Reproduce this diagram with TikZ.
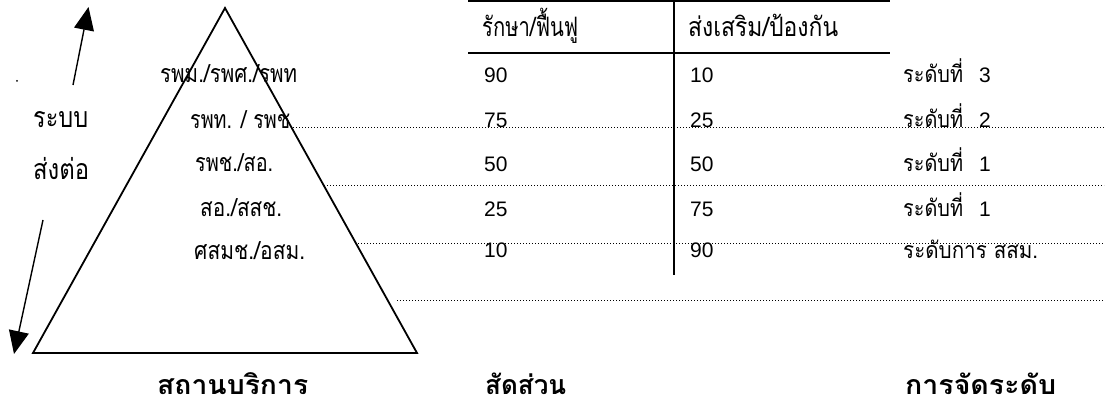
\documentclass[tikz,border=0pt]{standalone}
\usepackage{fontspec}
\usepackage{graphicx}
\setmainfont{Liberation Sans}
\newfontfamily\thai[Script=Thai]{Loma}
\usetikzlibrary{arrows.meta}
\newsavebox\thtext
\newsavebox\thref
% \thtx{width}{body height}{text}
\newcommand{\thtx}[3]{%
  \sbox\thtext{\thai #3}\sbox\thref{\thai น}%
  \pgfmathsetmacro\thsx{#1/\the\wd\thtext}%
  \pgfmathsetmacro\thsy{#2/\the\ht\thref}%
  \scalebox{\thsx}[\thsy]{\usebox\thtext}}
\newcommand{\thbx}[3]{%
  \sbox\thtext{\thai\bfseries #3}\sbox\thref{\thai\bfseries น}%
  \pgfmathsetmacro\thsx{#1/\the\wd\thtext}%
  \pgfmathsetmacro\thsy{#2/\the\ht\thref}%
  \scalebox{\thsx}[\thsy]{\usebox\thtext}}
\newcommand{\digs}[1]{{\fontsize{21}{21}\selectfont #1}}
\begin{document}
\begin{tikzpicture}[x=1pt,y=-1pt,
  tri/.style={line width=1.8pt,line join=miter},
  bigarrow/.style={line width=1.4pt,-{Triangle[length=23pt,width=20pt]}},
  tline/.style={line width=2.2pt},
  dotline/.style={line width=0.9pt,dash pattern=on 0.9pt off 2.1pt},
  txt/.style={inner sep=0pt,anchor=base west,text=black}]
\useasboundingbox (0,0) rectangle (1107,403);
% triangle
\coordinate (apex) at (225,8);
\coordinate (bl) at (33,353);
\coordinate (br) at (417,353);
\draw[tri] (apex) -- (bl) -- (br) -- cycle;
% arrows
\coordinate (u0) at (73,85);
\coordinate (u1) at (88.5,7);
\draw[bigarrow] (u0) -- (u1);
\coordinate (d0) at (43,220);
\coordinate (d1) at (14,354);
\draw[bigarrow] (d0) -- (d1);
% left labels
\node[circle,fill=black,inner sep=0pt,minimum size=2pt] (dot) at (17,81) {};
\node[txt] (rb) at (33,128) {\thtx{55pt}{16pt}{ระบบ}};
\node[txt] (st) at (33,180) {\thtx{56pt}{16pt}{ส่งต่อ}};
% triangle labels
\node[txt] (t1) at (160,83) {\thtx{137pt}{14pt}{รพม./รพศ./รพท}};
\node[txt] (t2) at (190,129) {\thtx{100pt}{14pt}{รพท. / รพช}};
\node[txt] (t3) at (195,172) {\thtx{78pt}{14pt}{รพช./สอ.}};
\node[txt] (t4) at (200,217) {\thtx{82pt}{14pt}{สอ./สสช.}};
\node[txt] (t5) at (194,260) {\thtx{111pt}{14pt}{ศสมช./อสม.}};
% table lines
\coordinate (h0a) at (468,1);
\coordinate (h0b) at (890,1);
\coordinate (h1a) at (468,53);
\coordinate (h1b) at (890,53);
\coordinate (v0) at (674,0);
\coordinate (v1) at (674,275);
\draw[tline] (h0a) -- (h0b);
\draw[tline] (h1a) -- (h1b);
\draw[tline] (v0) -- (v1);
% headers
\node[txt] (c1) at (482,37) {\thtx{96pt}{15pt}{รักษา/ฟื้นฟู}};
\node[txt] (c2) at (688,37) {\thtx{150pt}{15pt}{ส่งเสริม/ป้องกัน}};
% values
\node[txt] (a1) at (484,83) {\digs{90}};
\node[txt] (b1) at (690,83) {\digs{10}};
\node[txt] (r1) at (903,83) {\thtx{60pt}{13pt}{ระดับที่}};
\node[txt] (n1) at (979,83) {\digs{3}};
\node[txt] (a2) at (484,128) {\digs{75}};
\node[txt] (b2) at (690,128) {\digs{25}};
\node[txt] (r2) at (903,128) {\thtx{60pt}{13pt}{ระดับที่}};
\node[txt] (n2) at (979,128) {\digs{2}};
\node[txt] (a3) at (484,172) {\digs{50}};
\node[txt] (b3) at (690,172) {\digs{50}};
\node[txt] (r3) at (903,172) {\thtx{60pt}{13pt}{ระดับที่}};
\node[txt] (n3) at (979,172) {\digs{1}};
\node[txt] (a4) at (484,217) {\digs{25}};
\node[txt] (b4) at (690,217) {\digs{75}};
\node[txt] (r4) at (903,217) {\thtx{60pt}{13pt}{ระดับที่}};
\node[txt] (n4) at (979,217) {\digs{1}};
\node[txt] (a5) at (484,258) {\digs{10}};
\node[txt] (b5) at (690,258) {\digs{90}};
\node[txt] (r5) at (903,258) {\thtx{135pt}{13pt}{ระดับการ สสม.}};
% dotted lines
\coordinate (p1a) at (293,127);
\coordinate (p1b) at (1104,127);
\coordinate (p2a) at (324,185);
\coordinate (p2b) at (1104,185);
\coordinate (p3a) at (358,243);
\coordinate (p3b) at (1104,243);
\coordinate (p4a) at (397,300);
\coordinate (p4b) at (1104,300);
\draw[dotline] (p1a) -- (p1b);
\draw[dotline] (p2a) -- (p2b);
\draw[dotline] (p3a) -- (p3b);
\draw[dotline] (p4a) -- (p4b);
% bottom headings
\node[txt] (f1) at (157,394) {\thbx{151pt}{15pt}{สถานบริการ}};
\node[txt] (f2) at (485,394) {\thbx{81pt}{15pt}{สัดส่วน}};
\node[txt] (f3) at (905,394) {\thbx{151pt}{15pt}{การจัดระดับ}};
\end{tikzpicture}
\end{document}
